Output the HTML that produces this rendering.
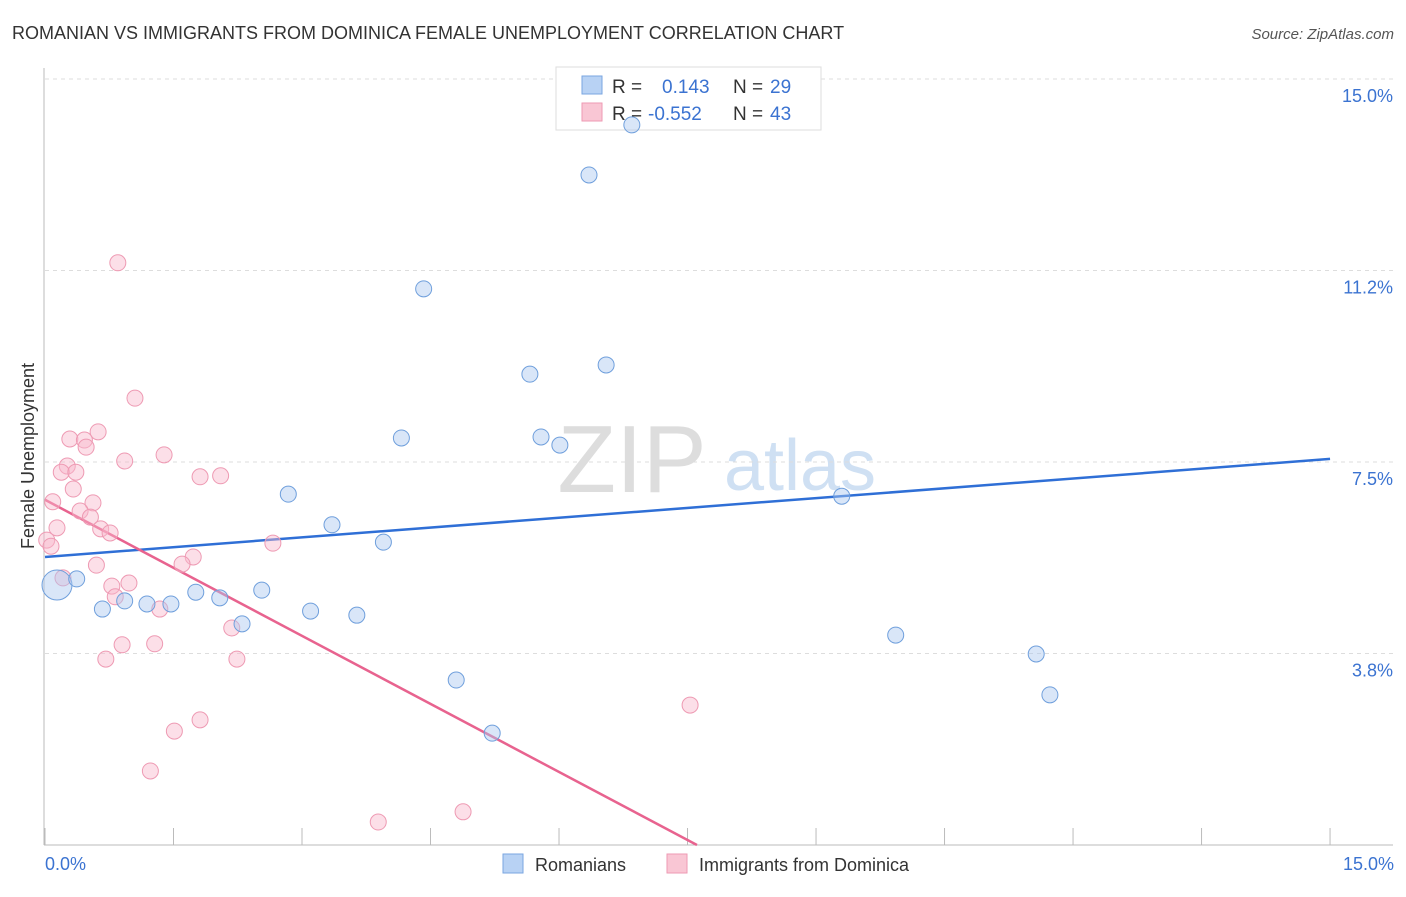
<!DOCTYPE html>
<html><head><meta charset="utf-8">
<style>
body{margin:0;background:#fff;font-family:"Liberation Sans",sans-serif;}
svg text{font-family:"Liberation Sans",sans-serif;}
</style></head>
<body>
<svg width="1406" height="892" viewBox="0 0 1406 892">
<text x="12" y="39" font-size="18" fill="#333">ROMANIAN VS IMMIGRANTS FROM DOMINICA FEMALE UNEMPLOYMENT CORRELATION CHART</text>
<text x="1394" y="39" font-size="15" fill="#555" font-style="italic" text-anchor="end">Source: ZipAtlas.com</text>
<text x="632" y="492" font-size="96" fill="#ddd" font-family="Liberation Serif" text-anchor="middle">ZIP</text>
<text x="800" y="490" font-size="72" fill="#cfe0f3" text-anchor="middle">atlas</text>
<g id="grid"></g>
<g id="axes"></g>
<g>
<rect x="556" y="67" width="265" height="63" fill="#fff" stroke="#ddd"/>
<rect x="582" y="76" width="20" height="18" fill="#b8d2f4" stroke="#7aa6e0"/>
<rect x="582" y="103" width="20" height="18" fill="#f9c6d4" stroke="#ee9ab3"/>
<text x="612" y="93" font-size="19" fill="#333">R = </text><text x="662" y="93" font-size="19" fill="#3b73d1">0.143</text>
<text x="733" y="93" font-size="19" fill="#333">N = </text><text x="770" y="93" font-size="19" fill="#3b73d1">29</text>
<text x="612" y="120" font-size="19" fill="#333">R = </text><text x="648" y="120" font-size="19" fill="#3b73d1">-0.552</text>
<text x="733" y="120" font-size="19" fill="#333">N = </text><text x="770" y="120" font-size="19" fill="#3b73d1">43</text>
</g>
<g id="lines"></g>
<g id="pts"></g>
<text x="34" y="456" font-size="18" fill="#333" text-anchor="middle" transform="rotate(-90 34 456)">Female Unemployment</text>
<text x="45" y="870" font-size="18" fill="#3b73d1">0.0%</text>
<text x="1394" y="870" font-size="18" fill="#3b73d1" text-anchor="end">15.0%</text>
<g>
<rect x="503" y="854" width="20" height="19" fill="#b8d2f4" stroke="#7aa6e0"/>
<text x="535" y="871" font-size="18" fill="#333">Romanians</text>
<rect x="667" y="854" width="20" height="19" fill="#f9c6d4" stroke="#ee9ab3"/>
<text x="699" y="871" font-size="18" fill="#333">Immigrants from Dominica</text>
</g>
</svg>
<script>
const yTicks=[3.75,7.5,11.25,15];
const yTickLabels=["3.8%","7.5%","11.2%","15.0%"];
const xTicks=[0,1.5,3,4.5,6,7.5,9,10.5,12,13.5,15];
const blueX=[0.14,0.37,0.67,0.93,1.19,1.47,1.76,2.04,2.30,2.53,2.84,3.10,3.35,3.64,3.95,4.16,4.42,4.80,5.22,5.66,5.79,6.01,6.35,6.55,6.85,9.30,9.93,11.57,11.73];
const blueY=[5.09,5.21,4.62,4.78,4.72,4.72,4.95,4.84,4.33,4.99,6.87,4.58,6.27,4.50,5.93,7.97,10.89,3.23,2.19,9.22,7.99,7.83,13.12,9.40,14.10,6.83,4.11,3.74,2.94];
const pinkX=[0.85,1.05,0.62,0.29,0.46,0.48,0.93,1.39,0.26,0.19,0.36,1.81,2.05,0.33,0.09,0.56,0.41,0.53,0.14,0.65,0.76,2.66,0.02,0.07,1.73,1.60,0.60,0.21,0.98,0.78,0.82,1.34,2.18,0.90,1.28,0.71,2.24,7.53,1.81,1.51,1.23,4.88,3.89];
const pinkY=[11.40,8.75,8.09,7.95,7.93,7.79,7.52,7.64,7.42,7.30,7.30,7.21,7.23,6.97,6.72,6.70,6.54,6.42,6.21,6.19,6.11,5.91,5.97,5.85,5.64,5.50,5.48,5.23,5.13,5.07,4.86,4.62,4.25,3.92,3.94,3.64,3.64,2.74,2.45,2.23,1.45,0.65,0.45];
const blueTrendX=[0,15], blueTrendY=[5.64,7.56];
const pinkTrendX=[0,7.61], pinkTrendY=[6.76,0];
const X=v=>45+v*85.67, Y=v=>845-v*51.07;
const NS="http://www.w3.org/2000/svg";
function mk(tag,attrs,parent){const e=document.createElementNS(NS,tag);for(const k in attrs)e.setAttribute(k,attrs[k]);document.getElementById(parent).appendChild(e);return e;}
yTicks.forEach((t,i)=>{
 const l=mk('line',{x1:45,x2:1393,y1:Y(t),y2:Y(t),stroke:'#ddd','stroke-dasharray':'4,4'},'grid');
 
 
 const tx=mk('text',{x:1393,y:Y(t)+23,'font-size':18,fill:'#3b73d1','text-anchor':'end'},'grid');
 tx.textContent=yTickLabels[i];
 
 
});
const ax=mk('line',{x1:44,x2:44,y1:68,y2:845,stroke:'#bbb'},'axes');


const bx=mk('line',{x1:44,x2:1393,y1:845,y2:845,stroke:'#bbb'},'axes');


xTicks.forEach(t=>{
 const l=mk('line',{x1:X(t),x2:X(t),y1:828,y2:845,stroke:'#bbb'},'axes');
 
 
});
const bl=mk('line',{x1:X(blueTrendX[0]),y1:Y(blueTrendY[0]),x2:X(blueTrendX[1]),y2:Y(blueTrendY[1]),stroke:'#2f6fd6','stroke-width':2.5},'lines');


const pl=mk('line',{x1:X(pinkTrendX[0]),y1:Y(pinkTrendY[0]),x2:X(pinkTrendX[1]),y2:Y(pinkTrendY[1]),stroke:'#e8638f','stroke-width':2.5},'lines');


pinkX.forEach((v,i)=>{
 const c=mk('circle',{cx:X(v),cy:Y(pinkY[i]),r:8,fill:'rgba(248,184,204,0.45)',stroke:'#ee9ab3','stroke-width':1},'pts');
 
 
});
blueX.forEach((v,i)=>{
 const c=mk('circle',{cx:X(v),cy:Y(blueY[i]),r:i===0?15:8,fill:'rgba(170,200,240,0.45)',stroke:'#6f9fdc','stroke-width':1},'pts');
 
 
});
</script>
</body></html>
